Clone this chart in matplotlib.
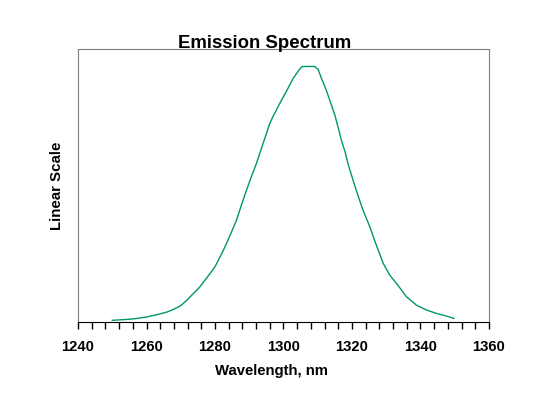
# emission spectrum, linear intensity vs wavelength
# points, peak normalised to 1

import numpy as np
import matplotlib.pyplot as plt
from matplotlib.ticker import MultipleLocator

plt.rcParams['font.family'] = ['Liberation Sans', 'DejaVu Sans']

wavelength = [1250.0, 1255.0, 1257.5, 1260.0, 1263.0, 1266.0, 1268.0, 1270.0, 1271.6,
              1275.5, 1277.5, 1280.0, 1282.5, 1284.3, 1286.2, 1288.2, 1289.2, 1290.6,
              1292.1, 1293.2, 1296.0, 1296.9, 1299.4, 1300.8, 1302.8, 1304.7, 1305.5,
              1309.1, 1310.1, 1311.1, 1312.5, 1313.5, 1315.0, 1315.9, 1316.9, 1318.0,
              1318.8, 1320.3, 1321.7, 1323.2, 1325.2, 1327.1, 1329.1, 1331.0, 1333.0,
              1335.9, 1338.8, 1341.7, 1344.6, 1347.6, 1349.8]
intensity = [0.0066, 0.0106, 0.0145, 0.0196, 0.0285, 0.039, 0.050, 0.064, 0.083,
             0.136, 0.171, 0.216, 0.282, 0.336, 0.396, 0.477, 0.516, 0.568,
             0.621, 0.665, 0.777, 0.803, 0.868, 0.901, 0.953, 0.989, 1.0,
             1.0, 0.989, 0.953, 0.907, 0.868, 0.810, 0.764, 0.712, 0.665,
             0.621, 0.555, 0.497, 0.438, 0.373, 0.301, 0.230, 0.184, 0.151,
             0.099, 0.066, 0.047, 0.034, 0.023, 0.014]

fig = plt.figure(figsize=(5.58, 3.99), dpi=100)
ax = fig.add_axes([0.1398, 0.193, 0.7365, 0.684])

ax.plot(wavelength, intensity, color="#00966e", lw=1.0)

ax.set_xlim(1240, 1360)
ax.set_ylim(0, 1.068)
ax.xaxis.set_major_locator(MultipleLocator(20))
ax.xaxis.set_minor_locator(MultipleLocator(4))
ax.set_yticks([])

for s in ["left", "top", "right"]:
    ax.spines[s].set_color("#808080")
ax.spines["bottom"].set_color("black")
ax.tick_params(axis="x", which="both", direction="out", length=5, width=1, colors="black")
ax.tick_params(axis="x", which="major", pad=8, labelsize=10.6)
for lbl in ax.get_xticklabels():
    lbl.set_fontweight("bold")

fig.text(264.5/558, 1-48/399, "Emission Spectrum", ha="center", va="baseline",
         fontsize=13.4, fontweight="bold")
fig.text(271.5/558, 1-375/399, "Wavelength, nm", ha="center", va="baseline",
         fontsize=10.7, fontweight="bold")
ax.set_ylabel("Linear Scale", fontsize=10.8, fontweight="bold", labelpad=10)

fig.savefig("out.png", dpi=100)
